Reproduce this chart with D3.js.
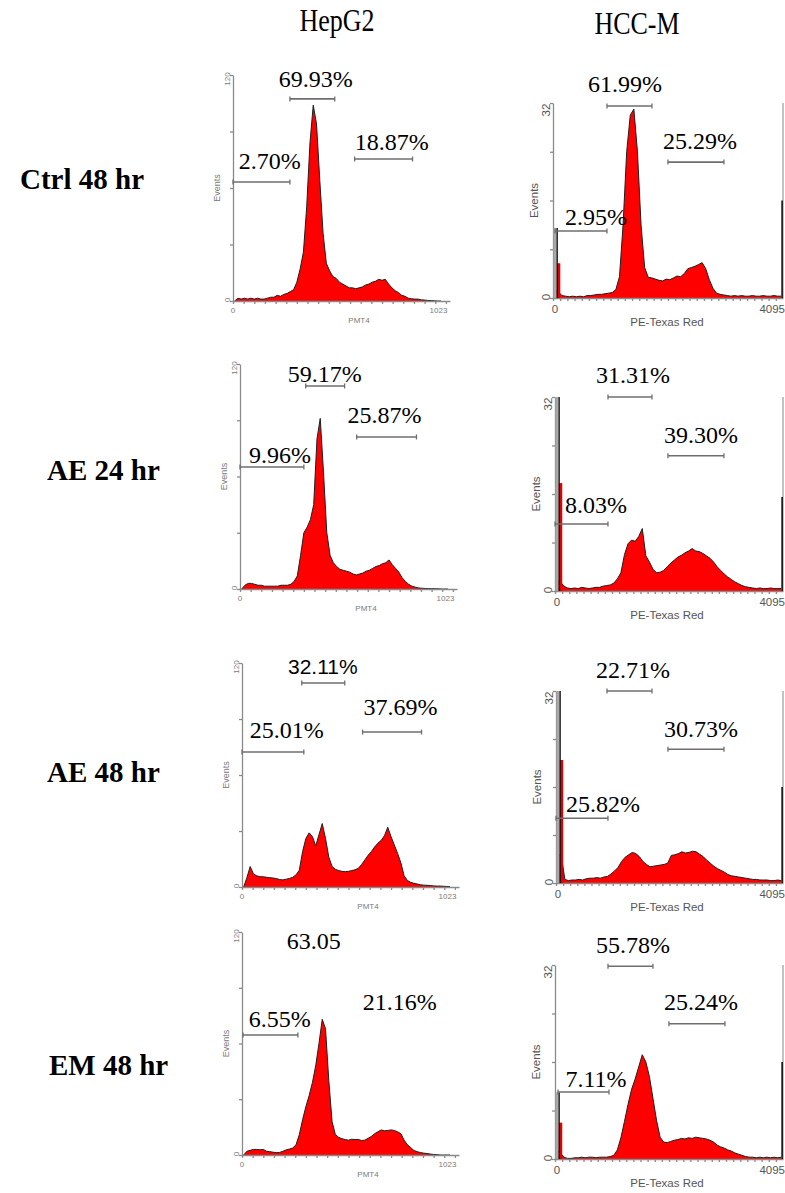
<!DOCTYPE html>
<html>
<head>
<meta charset="utf-8">
<script src="https://cdn.jsdelivr.net/npm/d3@7"></script>
<style>
  body { margin: 0; background: #fff; }
  svg { display: block; }
</style>
</head>
<body>
<svg width="785" height="1193"></svg>
<script>
// columns and rows of the figure
const cellLines = ["HepG2", "HCC-M"]
const treatments = ["Ctrl 48 hr", "AE 24 hr", "AE 48 hr", "EM 48 hr"]

// y-axis maxima and channel ranges
const hepMax = 120, hccMax = 32
const hepChannels = 1024, hccChannels = 4096

// histogram counts, 64 bins each (HepG2: 16 ch per bin, HCC-M: 64 ch per bin)
const hepCtrl = [0,1.5,1,1.5,1,1.5,1,1.5,1,1, 1.5,2,2,3,2.5,3.5,4,5,6,10, 17,26,50,84,104,94,64,36,20,16,
  13,12,10,9,8,7,7,6.5,7,7.5, 8.5,9,10,10.5,11.5,11,11.5,9,7,5.5, 4.5,3,2.5,1.5,1.2,1,1,0.6,0.5,0.3, 0.2,0.1,0,0]
const hccCtrl = [1.5,1,0.4,0.3,0.2,0.3,0.2,0.3,0.2,0.4, 0.4,0.5,0.6,0.6,0.7,0.8,0.9,1.4,3.5,12, 24,30,31,24,12,5,3.4,3.3,3.1,2.9,
  2.8,3.1,3,3.3,3.6,3.5,4,4.8,5,5.2, 5.5,5.8,4.8,3,1.6,0.8,0.6,0.5,0.4,0.3, 0.4,0.3,0.4,0.3,0.3,0.4,0.3,0.3,0.4,0.3, 0.3,0.4,0.3,0.3]
const hepAE24 = [0,2,3,3,2.5,2,2,1.5,1.5,1.5, 1.5,1.5,2,2,2,2.5,4,7,18,30, 33,37,45,80,91,62,30,18,14,12,
  10.5,10,9.5,9,8,7.5,8,8.5,9.5,10, 11,12,12.5,13.5,14,15.5,13,11,9,6, 4,2.5,1.5,1,0.6,0.4,0.3,0.2,0.2,0.1, 0.1,0,0,0]
const hccAE24 = [2,1.5,0.8,0.5,0.4,0.5,0.4,0.6,0.5,0.4, 0.5,0.6,0.6,0.8,0.9,1,1.3,2,3,6, 7.8,8.4,8.2,9,10.3,5.8,4.8,3.6,3,3.1,
  3.4,4,4.6,5.1,5.6,5.9,6.3,6.6,7,6.6, 6.5,6.2,5.8,5.4,4.8,4,3.4,2.8,2.3,1.9, 1.5,1.2,0.9,0.7,0.6,0.5,0.4,0.5,0.4,0.4, 0.5,0.4,0.4,0.4]
const hepAE48 = [0,5,11,7,6,5.5,5.5,5.2,5,4.8, 4.5,4,3.8,4.2,4.6,5.2,6.5,9,19,26, 29,27,22,28,34,26,16,11,9.5,8.8,
  8.4,8.2,8.4,8.8,9.2,10,12,14.5,17,19, 21.5,23.5,25,27.5,32,27,22.5,18,13,6, 3.5,2.5,2,1.6,1.2,1,0.9,0.8,0.6,0.5, 0.5,0.4,0.3,0.2]
const hccAE48 = [5,4.5,0.6,0.4,0.5,0.5,0.6,0.5,0.7,0.8, 0.8,0.9,0.8,1,1.1,1.5,2,2.6,3.6,4.3, 4.7,5.1,4.9,4.4,3.6,3.1,2.7,2.8,2.9,3,
  3.1,3.3,4.6,4.7,4.9,5.2,5,5.1,5.3,5.2, 4.8,4.4,3.8,3.3,2.8,2.4,2.1,1.8,1.4,1.2, 1.1,1,0.9,0.8,0.7,0.6,0.6,0.5,0.5,0.5, 0.4,0.4,0.5,0.4]
const hepEM48 = [0,2,2.5,3,3,2.8,3,2,1.8,1.5, 1.3,1.4,2,2.8,3.2,3.8,5.5,11,19,26, 32,39,48,60,73,68,40,18,11,9.5,
  8.8,8.3,8,8.5,8.3,8.4,7.8,8,9,10, 11.5,12.5,13.5,13,13.2,13.5,13.2,12.5,11.5,8, 5.5,4,2.4,1.8,1.3,1,0.8,0.5,0.3,0.2, 0,0,0,0]
const hccEM48 = [1.5,1,0.3,0.1,0.1,0.2,0.2,0.3,0.2,0.3, 0.3,0.2,0.3,0.3,0.3,0.4,0.6,1.5,3.5,6.2, 9,11.5,13.2,15.2,17.2,16,13.6,10,6.4,3.6,
  2.8,2.7,2.9,3.1,3.2,3.4,3.3,3.5,3.4,3.6, 3.5,3.4,3.3,3.1,2.8,2.3,2,1.8,1.5,1.3, 1,0.8,0.6,0.4,0.3,0.3,0.2,0.3,0.2,0.3, 0.2,0.3,0.2,0.3]

// HCC-M debris spike at channel 0 (outline / red part) and pile-up at channel 4095
const hccSpikeOutline = [11.5, 34, 34, 11]
const hccSpikeRed = [5.7, 17.8, 20.5, 6]
const hccEdgeSpike = [16, 15.5, 16, 16]

// marker gates [from channel, to channel, marker level]
const hepCtrlGates = [[0, 278, 63.2], [278, 497, 107.3], [594, 877, 75.4]]
const hccCtrlGates = [[36, 961, 11], [961, 1762, 31.5], [2047, 3044, 22.3]]
const hepAE24Gates = [[0, 312, 65.1], [321, 511, 108.3], [570, 862, 81.1]]
const hccAE24Gates = [[0, 952, 11.05], [952, 1742, 32], [2029, 3035, 22.3]]
const hepAE48Gates = [[0, 302, 72.3], [292, 502, 109.3], [589, 877, 83]]
const hccAE48Gates = [[0, 938, 10.8], [920, 1732, 32], [2020, 3031, 22.3]]
const hepEM48Gates = [[5, 273, 64.6]]
const hccEM48Gates = [[54, 970, 11.05], [952, 1760, 31.8], [2047, 3053, 22.3]]

// percentage labels [text, channel, count]
const hepCtrlLabels = [["2.70%", 180, 70.1], ["69.93%", 404, 113.6], ["18.87%", 775, 80.2]]
const hccCtrlLabels = [["2.95%", 765, 12], ["61.99%", 1282, 33.8], ["25.29%", 2617, 24.5]]
const hepAE24Labels = [["9.96%", 195, 67.2], ["59.17%", 414, 110.4], ["25.87%", 706, 88.5]]
const hccAE24Labels = [["8.03%", 736, 12.9], ["31.31%", 1401, 34.3], ["39.30%", 2622, 24.4]]
const hepAE48Labels = [["25.01%", 219, 79.8], ["32.11%", 395, 114.1], ["37.69%", 774, 92.1]]
const hccAE48Labels = [["25.82%", 848, 11.8], ["22.71%", 1389, 34.2], ["30.73%", 2616, 24.3]]
const hepEM48Labels = [["6.55%", 185, 68.9], ["63.05", 351, 110.9], ["21.16%", 770, 78]]
const hccEM48Labels = [["7.11%", 736, 11.9], ["55.78%", 1401, 34], ["25.24%", 2622, 24.6]]

const panels = [
  {type: "hep", counts: hepCtrl, gates: hepCtrlGates, labels: hepCtrlLabels},
  {type: "hcc", counts: hccCtrl, gates: hccCtrlGates, labels: hccCtrlLabels},
  {type: "hep", counts: hepAE24, gates: hepAE24Gates, labels: hepAE24Labels},
  {type: "hcc", counts: hccAE24, gates: hccAE24Gates, labels: hccAE24Labels},
  {type: "hep", counts: hepAE48, gates: hepAE48Gates, labels: hepAE48Labels},
  {type: "hcc", counts: hccAE48, gates: hccAE48Gates, labels: hccAE48Labels},
  {type: "hep", counts: hepEM48, gates: hepEM48Gates, labels: hepEM48Labels},
  {type: "hcc", counts: hccEM48, gates: hccEM48Gates, labels: hccEM48Labels}
]

// where each small plot sits on the page (axis origin and top)
const frames = [
  {x0: 233, y0: 301, yTop: 75},  {x0: 553, y0: 298, yTop: 103},
  {x0: 240, y0: 589, yTop: 364}, {x0: 555, y0: 591, yTop: 397},
  {x0: 242, y0: 887, yTop: 663}, {x0: 556, y0: 883, yTop: 691},
  {x0: 242, y0: 1155, yTop: 932},{x0: 555, y0: 1159, yTop: 965}
]
const rowLabelPos = [[20, 189], [47, 480], [47, 782], [49, 1075]]

const svg = d3.select("svg")
const serif = "'Liberation Serif', 'Times New Roman', serif"
const sans = "'Liberation Sans', Arial, sans-serif"

// column headers (slightly tall, as in the scanned figure)
svg.selectAll(".head").data(cellLines).join("text")
  .attr("transform", (d, i) => `translate(${i == 0 ? 337 : 637},${i == 0 ? 31 : 34}) scale(1,1.18)`)
  .attr("text-anchor", "middle")
  .attr("font-family", serif).attr("font-size", 26)
  .text(d => d)

// row labels
svg.selectAll(".row").data(treatments).join("text")
  .attr("x", (d, i) => rowLabelPos[i][0])
  .attr("y", (d, i) => rowLabelPos[i][1])
  .attr("font-family", serif).attr("font-size", 29).attr("font-weight", "bold")
  .text(d => d)

function drawPanel(p, f, idx) {
  const hep = p.type == "hep"
  const row = Math.floor(idx / 2)
  const yMax = hep ? hepMax : hccMax
  const chMax = hep ? hepChannels : hccChannels
  const binW = chMax / p.counts.length

  // HepG2 axis runs a little past channel 1023
  const x = hep
    ? d3.scaleLinear().domain([0, 1060]).range([f.x0, f.x0 + 217])
    : d3.scaleLinear().domain([0, hccChannels]).range([f.x0, 783])
  const y = d3.scaleLinear().domain([0, yMax]).range([f.y0, f.yTop]).clamp(true)

  const g = svg.append("g")

  // histogram
  const pts = p.counts.map((c, k) => [(k + 0.5) * binW, c])
  const area = d3.area().x(d => x(d[0])).y0(y(0)).y1(d => y(d[1]))
  const line = d3.line().x(d => x(d[0])).y(d => y(d[1]))
  g.append("path").attr("d", area(pts)).attr("fill", "#ff0000")
  g.append("path").attr("d", line(pts)).attr("fill", "none")
    .attr("stroke", "#1e1e1e").attr("stroke-width", 1)

  // axes
  const yAxis = d3.axisLeft(y).tickValues(d3.range(0, yMax + 1, yMax / 4))
    .tickSize(3).tickSizeOuter(0).tickFormat("")
  const xAxis = d3.axisBottom(x).tickValues(d3.range(0, hep ? 1060 : 4096, hep ? 52 : 128))
    .tickSize(3).tickSizeOuter(0).tickFormat("")
  g.append("g").attr("transform", `translate(${f.x0},0)`).call(yAxis)
  g.append("g").attr("transform", `translate(0,${f.y0})`).call(xAxis)
  g.selectAll(".domain, .tick line").attr("stroke", "#8a8a8a").attr("stroke-width", 1.3)

  if (!hep) {
    // right frame and pile-up in the last channel
    g.append("line").attr("x1", x(hccChannels)).attr("x2", x(hccChannels))
      .attr("y1", y(0)).attr("y2", y(hccMax)).attr("stroke", "#9a9a9a").attr("stroke-width", 1.2)
    g.append("line").attr("x1", x(4080)).attr("x2", x(4080))
      .attr("y1", y(0)).attr("y2", y(hccEdgeSpike[row])).attr("stroke", "#111").attr("stroke-width", 1.6)
    // debris spike near channel 0
    g.append("rect").attr("x", x(0) + 0.5).attr("width", x(60) - x(0))
      .attr("y", y(hccSpikeOutline[row])).attr("height", y(0) - y(hccSpikeOutline[row]))
      .attr("fill", "#a8a8a8")
    g.append("rect").attr("x", x(70)).attr("width", x(130) - x(70))
      .attr("y", y(hccSpikeRed[row])).attr("height", y(0) - y(hccSpikeRed[row]))
      .attr("fill", "#e00000")
    g.append("line").attr("x1", x(75)).attr("x2", x(75))
      .attr("y1", y(0)).attr("y2", y(hccSpikeOutline[row])).attr("stroke", "#111").attr("stroke-width", 1.3)
  }

  // axis texts
  const small = hep ? 8 : 11.5
  const axisCol = hep ? "#7a7a7a" : "#555"
  const txt = (s, tx, ty, rot, anchor, size) => g.append("text")
    .attr("transform", `translate(${tx},${ty})` + (rot ? " rotate(-90)" : ""))
    .attr("text-anchor", anchor || "middle")
    .attr("font-family", sans).attr("font-size", size || small).attr("fill", axisCol)
    .text(s)
  txt("0", f.x0 - 3, y(0) - 1, true)
  txt(String(yMax), f.x0 - 3, y(yMax) + (hep ? 4 : 7), true)
  txt("Events", f.x0 - (hep ? 13 : 15), (f.y0 + f.yTop) / 2, true, "middle", hep ? 9 : 11.5)
  if (hep) {
    txt("0", f.x0, f.y0 + 12)
    txt("1023", x(1023) - 4, f.y0 + 12)
    txt("PMT4", f.x0 + 126, f.y0 + 22)
  } else {
    txt("0", f.x0 + 2, f.y0 + 15)
    txt("4095", 785, f.y0 + 15, false, "end")
    txt("PE-Texas Red", 667, f.y0 + 28)
  }

  // gates
  const gateCol = "#6e6e6e"
  p.gates.forEach(gt => {
    const gy = y(gt[2])
    g.append("line").attr("x1", x(gt[0])).attr("x2", x(gt[1]))
      .attr("y1", gy).attr("y2", gy).attr("stroke", gateCol).attr("stroke-width", 1.6)
    ;[gt[0], gt[1]].forEach(c => g.append("line")
      .attr("x1", x(c)).attr("x2", x(c)).attr("y1", gy - 2.5).attr("y2", gy + 2.5)
      .attr("stroke", gateCol).attr("stroke-width", 1.3))
  })

  // percentages
  const yFree = d3.scaleLinear().domain([0, yMax]).range([f.y0, f.yTop])
  p.labels.forEach(lb => {
    const isSans = lb[0] == "32.11%"
    g.append("text")
      .attr("x", x(lb[1])).attr("y", yFree(lb[2]))
      .attr("text-anchor", "middle")
      .attr("font-family", isSans ? sans : serif)
      .attr("font-size", isSans ? 21 : 24)
      .text(lb[0])
  })
}

panels.forEach((p, i) => drawPanel(p, frames[i], i))
</script>
</body>
</html>
